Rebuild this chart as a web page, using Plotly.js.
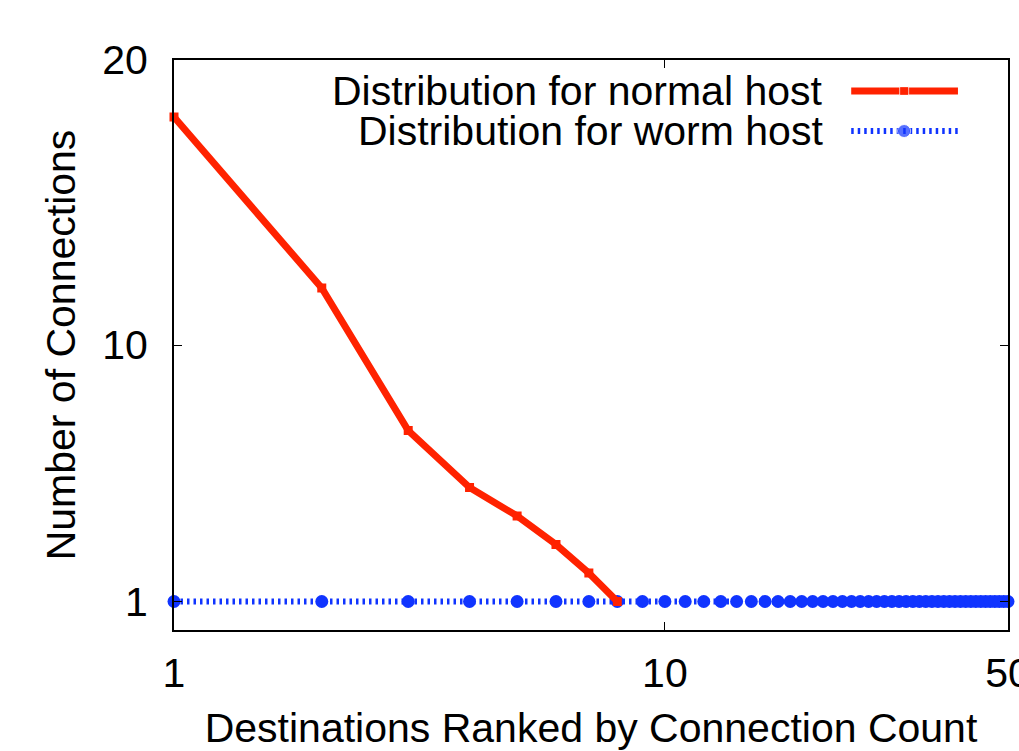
<!DOCTYPE html>
<html>
<head>
<meta charset="utf-8">
<script src="https://cdn.plot.ly/plotly-3.0.1.min.js"></script>
<style>html,body{margin:0;padding:0;background:#fff;}#chart{width:1019px;height:751px;}</style>
</head>
<body>
<div id="chart"></div>
<script>
// Data
const normalRank = [1, 2, 3, 4, 5, 6, 7, 8];
const normalCount = [18, 12, 7, 5, 4, 3, 2, 1];
const wormRank = [];
for (let r = 1; r <= 50; r++) wormRank.push(r);
const wormCount = [1,1,1,1,1,1,1,1,1,1, 1,1,1,1,1,1,1,1,1,1, 1,1,1,1,1,1,1,1,1,1, 1,1,1,1,1,1,1,1,1,1, 1,1,1,1,1,1,1,1,1,1];
const xTickVals = [1, 10, 50];
const xTickText = ['1', '10', '50'];
const yTickVals = [1, 10, 20];
const yTickText = ['1', '10', '20'];
const seriesNames = ['Distribution for normal host', 'Distribution for worm host'];

const RED = '#ff2200';
const BLUE = '#1034ff';
const FONT = 'Liberation Sans, Arial, Helvetica, sans-serif';
const FS = 41;
const DOTS = '2.5px,4px';

const traces = [
  {
    x: wormRank, y: wormCount, type: 'scatter', mode: 'lines+markers',
    line: {color: BLUE, width: 6, dash: DOTS},
    marker: {color: BLUE, size: 13, symbol: 'circle'},
    showlegend: false, cliponaxis: false
  },
  {
    x: normalRank, y: normalCount, type: 'scatter', mode: 'lines+markers',
    line: {color: RED, width: 7},
    marker: {color: RED, size: 9, symbol: 'square'},
    showlegend: false, cliponaxis: false
  },
  // legend samples on a 0..1 overlay scale
  {
    x: [0.812, 0.8755, 0.94], y: [0.9456, 0.9456, 0.9456], xaxis: 'x2', yaxis: 'y2',
    type: 'scatter', mode: 'lines+markers',
    line: {color: RED, width: 7},
    marker: {color: RED, size: [0, 9, 0], symbol: 'square'},
    showlegend: false, hoverinfo: 'skip'
  },
  {
    x: [0.812, 0.8755, 0.94], y: [0.8754, 0.8754, 0.8754], xaxis: 'x2', yaxis: 'y2',
    type: 'scatter', mode: 'lines+markers',
    line: {color: BLUE, width: 6, dash: DOTS},
    marker: {color: BLUE, size: [0, 13, 0], symbol: 'circle'},
    showlegend: false, hoverinfo: 'skip'
  }
];

const layout = {
  width: 1019, height: 751,
  margin: {l: 174, r: 11, t: 60, b: 121, pad: 0},
  paper_bgcolor: '#fff', plot_bgcolor: '#fff',
  font: {family: FONT, size: FS, color: '#000'},
  showlegend: false,
  xaxis: {
    type: 'log', range: [0, Math.log10(50)],
    tickvals: xTickVals, ticktext: xTickText,
    ticks: 'inside', ticklen: 8, tickwidth: 1, tickcolor: '#000',
    showline: true, linecolor: '#000', linewidth: 2, mirror: 'ticks',
    showgrid: false, zeroline: false,
    tickfont: {family: FONT, size: FS, color: '#000'},
    ticklabelstandoff: 6, ticklabeloverflow: 'allow',
    title: {text: 'Destinations Ranked by Connection Count', font: {family: FONT, size: FS, color: '#000'}, standoff: 20}
  },
  yaxis: {
    type: 'linear', range: [0, 20],
    tickvals: yTickVals, ticktext: yTickText,
    ticks: 'inside', ticklen: 8, tickwidth: 1, tickcolor: '#000',
    showline: true, linecolor: '#000', linewidth: 2, mirror: 'ticks',
    showgrid: false, zeroline: false,
    tickfont: {family: FONT, size: FS, color: '#000'},
    ticklabelstandoff: 16,
    title: {text: 'Number of Connections', font: {family: FONT, size: FS, color: '#000'}, standoff: 14}
  },
  xaxis2: {overlaying: 'x', range: [0, 1], visible: false, fixedrange: true},
  yaxis2: {overlaying: 'y', range: [0, 1], visible: false, fixedrange: true},
  annotations: [
    {xref: 'paper', yref: 'paper', x: 0.7794, y: 0.9456, xanchor: 'right', yanchor: 'middle',
     text: seriesNames[0], showarrow: false, borderpad: 0, font: {family: FONT, size: FS, color: '#000'}},
    {xref: 'paper', yref: 'paper', x: 0.7794, y: 0.8754, xanchor: 'right', yanchor: 'middle',
     text: seriesNames[1], showarrow: false, borderpad: 0, font: {family: FONT, size: FS, color: '#000'}}
  ]
};

Plotly.newPlot('chart', traces, layout, {staticPlot: true, displayModeBar: false});
</script>
</body>
</html>
